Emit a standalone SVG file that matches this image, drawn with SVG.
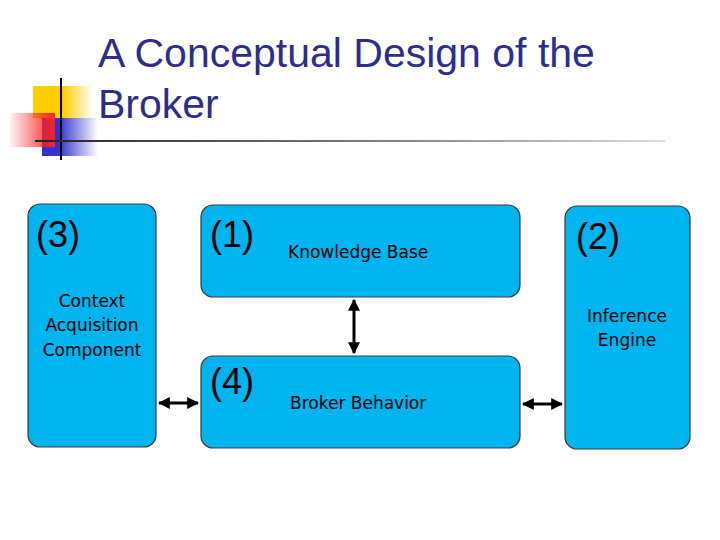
<svg xmlns="http://www.w3.org/2000/svg" width="720" height="540" viewBox="0 0 720 540">
<defs>
<linearGradient id="gy" x1="0" x2="1"><stop offset="0.5" stop-color="#ffcc00"/><stop offset="1" stop-color="#ffcc00" stop-opacity="0"/></linearGradient>
<linearGradient id="gb" x1="0" x2="1"><stop offset="0.3" stop-color="#3333cc"/><stop offset="1" stop-color="#3333cc" stop-opacity="0"/></linearGradient>
<linearGradient id="gr" x1="1" x2="0"><stop offset="0" stop-color="#ff2020"/><stop offset="1" stop-color="#ff2020" stop-opacity="0.05"/></linearGradient>
<linearGradient id="gl" x1="0" x2="1"><stop offset="0" stop-color="#222"/><stop offset="0.6" stop-color="#888"/><stop offset="1" stop-color="#ddd"/></linearGradient>
<marker id="ah" viewBox="0 0 10 10" refX="9" refY="5" markerWidth="4" markerHeight="4" orient="auto-start-reverse"><path d="M0,0 L10,5 L0,10 z" fill="#000"/></marker>
<style>
.box{fill:#00b4f0;stroke:#3a3a3a;stroke-width:1.2}
.t{font-family:Verdana,"DejaVu Sans",sans-serif;fill:#000}
.big{font-family:"Liberation Sans",Arial,sans-serif;font-size:36px;fill:#000}
.c{stroke:#000;stroke-width:3;marker-start:url(#ah);marker-end:url(#ah)}
</style>
</defs>
<rect width="720" height="540" fill="#fff"/>
<g id="decor">
<rect x="33" y="86" width="60" height="32" fill="url(#gy)"/>
<rect x="42" y="118" width="56" height="38" fill="url(#gb)"/>
<rect x="10" y="113" width="45" height="34" fill="url(#gr)"/>
<line x1="61" y1="78" x2="61" y2="160" stroke="#000" stroke-width="2"/>
<rect x="35" y="140" width="630" height="2" fill="url(#gl)"/>
</g>
<text x="98" y="67" font-family="Liberation Sans,Arial,sans-serif" font-size="41" fill="#2e2e8a">A Conceptual Design of the</text>
<text x="98" y="118" font-family="Liberation Sans,Arial,sans-serif" font-size="41" fill="#2e2e8a">Broker</text>
<g id="ctx"><rect class="box" x="28" y="204" width="128" height="243" rx="12"/>
<text class="big" x="36" y="247">(3)</text>
<text class="t" font-size="17" text-anchor="middle" x="92" y="307">Context</text>
<text class="t" font-size="17" text-anchor="middle" x="92" y="331">Acquisition</text>
<text class="t" font-size="17" text-anchor="middle" x="92" y="356">Component</text></g>
<g id="kb"><rect class="box" x="201" y="205" width="319" height="92" rx="12"/>
<text class="big" x="210" y="247">(1)</text>
<text class="t" font-size="17" x="288" y="258">Knowledge Base</text></g>
<g id="bb"><rect class="box" x="201" y="356" width="319" height="92" rx="12"/>
<text class="big" x="210" y="394">(4)</text>
<text class="t" font-size="17" x="290" y="409">Broker Behavior</text></g>
<g id="ie"><rect class="box" x="565" y="206" width="125" height="243" rx="12"/>
<text class="big" x="576" y="249">(2)</text>
<text class="t" font-size="17" text-anchor="middle" x="627" y="322">Inference</text>
<text class="t" font-size="17" text-anchor="middle" x="627" y="346">Engine</text></g>
<g id="connectors">
<line class="c" x1="159" y1="403" x2="198" y2="403"/>
<line class="c" x1="354" y1="300" x2="354" y2="353"/>
<line class="c" x1="523" y1="404" x2="562" y2="404"/>
</g>
</svg>
